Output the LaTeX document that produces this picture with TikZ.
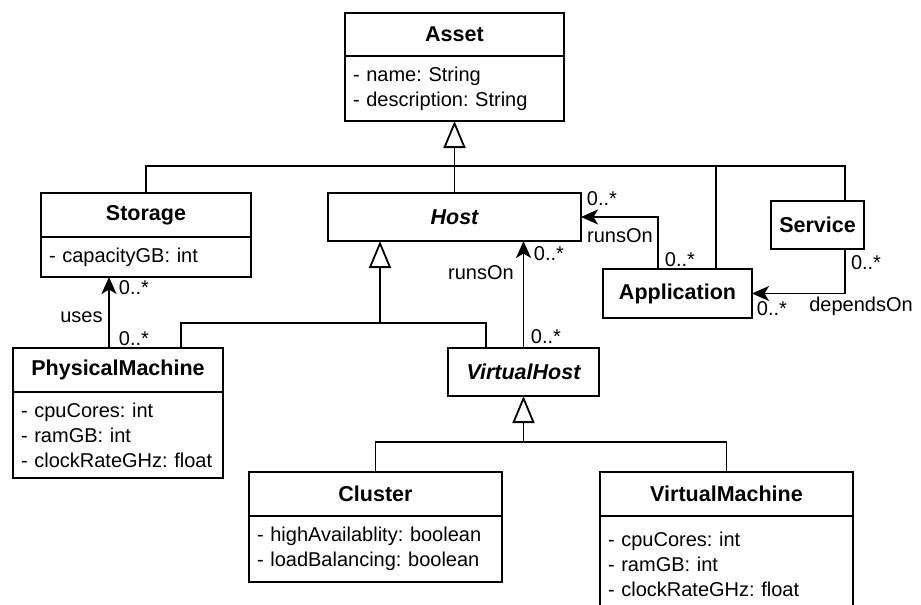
\documentclass[tikz,border=0pt]{standalone}
\usepackage{fontspec}
\setmainfont{Liberation Sans}
\usetikzlibrary{arrows.meta,positioning}
\frenchspacing

\tikzset{every picture/.style={line width=1.8pt}}
\tikzset{
  clshead/.style={draw, outer sep=0pt, inner sep=0pt, font=\fontsize{21.5}{25}\selectfont\bfseries},
  clsattr/.style={draw, outer sep=0pt, inner xsep=8pt, inner ysep=0pt, align=left, font=\fontsize{20}{25}\selectfont},
  lbl/.style={inner sep=0pt, font=\fontsize{20}{25}\selectfont},
  gen/.style={-{Triangle[open, length=27pt, width=22pt]}},
  assoc/.style={-{Stealth[length=17pt, width=15pt, inset=4.5pt]}},
}

\begin{document}
\begin{tikzpicture}[x=1pt,y=1pt,yscale=-1,xscale=1]
\clip (0,0) rectangle (921,605);
%Class: Asset
\node [clshead, minimum width=219pt, minimum height=43pt] (asset) at (454.5,34.5) {Asset};
\node [clsattr, text width=203pt, minimum height=65pt, below=0pt of asset] (assetA) {- name: String\\- description: String};
%Class: Storage
\node [clshead, minimum width=210pt, minimum height=44pt] (storage) at (146,215) {Storage};
\node [clsattr, text width=194pt, minimum height=40pt, below=0pt of storage] (storageA) {- capacityGB: int};
%Class: Host
\node [clshead, minimum width=253pt, minimum height=48pt, font=\fontsize{21.5}{25}\selectfont\bfseries\itshape] (host) at (454.5,217) {Host};
%Class: Service
\node [clshead, minimum width=93pt, minimum height=48pt] (service) at (817.5,225) {Service};
%Class: Application
\node [clshead, minimum width=149pt, minimum height=49pt] (app) at (677.5,293.5) {Application};
%Class: PhysicalMachine
\node [clshead, minimum width=210pt, minimum height=44pt] (pm) at (118,370) {PhysicalMachine};
\node [clsattr, text width=194pt, minimum height=86pt, below=0pt of pm] (pmA) {- cpuCores: int\\- ramGB: int\\- clockRateGHz: float};
%Class: VirtualHost
\node [clshead, minimum width=151pt, minimum height=48pt, font=\fontsize{21.5}{25}\selectfont\bfseries\itshape] (vh) at (523.5,372) {VirtualHost};
%Class: Cluster
\node [clshead, minimum width=253pt, minimum height=44pt] (cluster) at (375.5,494) {Cluster};
\node [clsattr, text width=237pt, minimum height=66pt, below=0pt of cluster] (clusterA) {- highAvailablity: boolean\\- loadBalancing: boolean};
%Class: VirtualMachine
\node [clshead, minimum width=253pt, minimum height=44pt] (vm) at (726.5,494) {VirtualMachine};
\node [clsattr, text width=237pt, minimum height=96pt, below=0pt of vm] (vmA) {- cpuCores: int\\- ramGB: int\\- clockRateGHz: float};

%Generalization: Asset
\coordinate (assetbus) at (454.5,166);
\draw [gen] (host.north) -- (assetA.south);
\draw (storage.north) |- (assetbus);
\draw ([xshift=38.5pt]app.north) |- (assetbus);
\draw ([xshift=27.5pt]service.north) |- (assetbus);
%Generalization: Host
\coordinate (hostbus) at (380,323);
\draw [gen] (hostbus) -- (hostbus |- host.south);
\draw ([xshift=63pt]pm.north) |- (hostbus);
\draw ([xshift=-37.5pt]vh.north) |- (hostbus);
%Generalization: VirtualHost
\coordinate (vhbus) at (523.5,442);
\draw [gen] (vhbus) -- (vh.south);
\draw (cluster.north) |- (vhbus);
\draw (vm.north) |- (vhbus);

%Association: uses
\coordinate (usesfoot) at ([xshift=-9pt]pm.north);
\draw [assoc] (usesfoot) -- (usesfoot |- storageA.south);
%Association: runsOn (VirtualHost)
\draw [assoc] (vh.north) -- (vh.north |- host.south);
%Association: runsOn (Application)
\draw [assoc] ([xshift=-19.5pt]app.north) |- (host.east);
%Association: dependsOn
\draw [assoc] ([xshift=27.5pt]service.south) |- (app.east);

% Text Node
\node [lbl] (usesM1) at (134,288) {0..*};
\node [lbl] (usesL) at (81.5,317) {uses};
\node [lbl] (usesM2) at (134,339) {0..*};
% Text Node
\node [lbl] (vhrunsM1) at (549,254) {0..*};
\node [lbl] (vhrunsL) at (481,273) {runsOn};
\node [lbl] (vhrunsM2) at (546,337) {0..*};
% Text Node
\node [lbl] (apprunsM1) at (602,199) {0..*};
\node [lbl] (apprunsL) at (620,236) {runsOn};
\node [lbl] (apprunsM2) at (680,260) {0..*};
% Text Node
\node [lbl] (depM1) at (866,263) {0..*};
\node [lbl] (depM2) at (772,309) {0..*};
\node [lbl] (depL) at (861,306) {dependsOn};
\end{tikzpicture}
\end{document}
